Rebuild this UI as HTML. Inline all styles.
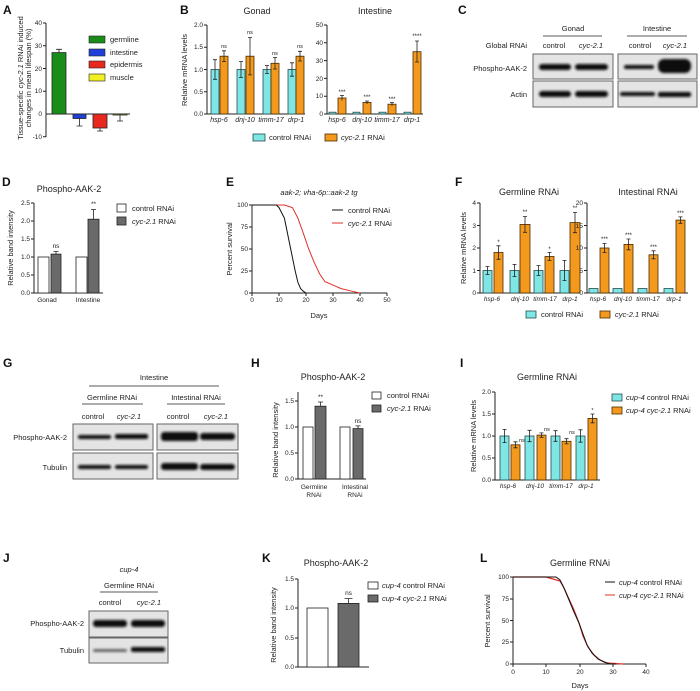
<!DOCTYPE html>
<html><head><meta charset="utf-8"><style>
body{margin:0;background:#fff}
svg{display:block;font-family:"Liberation Sans",sans-serif}
.t{font-size:6.5px;fill:#222}
.l{font-size:7.5px;fill:#222}
.ti{font-size:9px;fill:#222}
.P{font-size:12px;font-weight:bold;fill:#111}
.i{font-style:italic}
.ax{stroke:#222;stroke-width:1;fill:none}
.cy{fill:#7fe6e6;stroke:#2a4a4a;stroke-width:.8}
.or{fill:#f39a1e;stroke:#4a2a00;stroke-width:.8}
.wh{fill:#fff;stroke:#222;stroke-width:.8}
.gr{fill:#6a6a6a;stroke:#222;stroke-width:.8}
.e{stroke:#222;stroke-width:.8;fill:none}
.box{fill:#e4e4e4;stroke:#666;stroke-width:1}
.band{fill:#111;filter:url(#b)}
</style></head><body>
<svg width="700" height="691" viewBox="0 0 700 691">
<defs><filter id="b" x="-20%" y="-100%" width="140%" height="300%"><feGaussianBlur stdDeviation="1.2"/></filter></defs>

<!-- A -->
<text class="P" x="3" y="14">A</text>
<text class="l" transform="translate(23,78) rotate(-90)" text-anchor="middle">Tissue-specific <tspan class="i">cyc-2.1</tspan> RNAi induced</text>
<text class="l" transform="translate(31,78) rotate(-90)" text-anchor="middle">changes in mean lifespan (%)</text>
<path class="ax" d="M46,23V137M43,23H46M43,45.75H46M43,68.5H46M43,91.25H46M43,136.75H46M46,114H130"/>
<g class="t" text-anchor="end"><text x="42" y="25">40</text><text x="42" y="48">30</text><text x="42" y="71">20</text><text x="42" y="93">10</text><text x="42" y="116">0</text><text x="42" y="139">-10</text></g>
<rect x="52" y="52.6" width="14" height="61.4" fill="#1a8c1a" stroke="#222" stroke-width=".8"/><path class="e" d="M59,52.6V49.3M56,49.3H62"/>
<rect x="73" y="114" width="13" height="4.5" fill="#1f3fd8" stroke="#222" stroke-width=".8"/><path class="e" d="M79.5,118.5V126M76.5,126H82.5"/>
<rect x="93" y="114" width="14" height="14" fill="#e8281e" stroke="#222" stroke-width=".8"/><path class="e" d="M100,128V131M97,131H103"/>
<rect x="113" y="114" width="14" height="1" fill="#f0f020" stroke="#222" stroke-width=".8"/><path class="e" d="M120,115V121M117,121H123"/>
<rect x="89" y="36" width="16" height="7" fill="#1a8c1a" stroke="#222" stroke-width=".6"/><text class="l" x="110" y="42">germline</text>
<rect x="89" y="49" width="16" height="7" fill="#1f3fd8" stroke="#222" stroke-width=".6"/><text class="l" x="110" y="55">intestine</text>
<rect x="89" y="61" width="16" height="7" fill="#e8281e" stroke="#222" stroke-width=".6"/><text class="l" x="110" y="67">epidermis</text>
<rect x="89" y="74" width="16" height="7" fill="#f0f020" stroke="#222" stroke-width=".6"/><text class="l" x="110" y="80">muscle</text>

<!-- B -->
<text class="P" x="180" y="14">B</text>
<text class="ti" x="257" y="14" text-anchor="middle">Gonad</text>
<text class="ti" x="375" y="14" text-anchor="middle">Intestine</text>
<text class="l" transform="translate(187,70) rotate(-90)" text-anchor="middle">Relative mRNA levels</text>
<path class="ax" d="M207,25V114H305M204,25H207M204,47.25H207M204,69.5H207M204,91.75H207M204,114H207"/>
<g class="t" text-anchor="end"><text x="203" y="27">2.0</text><text x="203" y="49">1.5</text><text x="203" y="72">1.0</text><text x="203" y="94">0.5</text><text x="203" y="116">0.0</text></g>
<rect class="cy" x="211" y="69.5" width="8" height="44.5"/><path class="e" d="M215,59.7V79.3M213,59.7H217M213,79.3H217"/>
<rect class="or" x="220" y="56.2" width="8" height="57.8"/><path class="e" d="M224,50.8V61.5M222,50.8H226M222,61.5H226"/>
<rect class="cy" x="237" y="69.5" width="8" height="44.5"/><path class="e" d="M241,61.5V77.5M239,61.5H243M239,77.5H243"/>
<rect class="or" x="246" y="56.2" width="8" height="57.8"/><path class="e" d="M250,37.5V74.9M248,37.5H252M248,74.9H252"/>
<rect class="cy" x="263" y="69.5" width="8" height="44.5"/><path class="e" d="M267,65.5V73.5M265,65.5H269M265,73.5H269"/>
<rect class="or" x="271" y="63.3" width="8" height="50.7"/><path class="e" d="M275,57.5V69M273,57.5H277M273,69H277"/>
<rect class="cy" x="288" y="69.5" width="8" height="44.5"/><path class="e" d="M292,62.8V76.2M290,62.8H294M290,76.2H294"/>
<rect class="or" x="296" y="56.2" width="8" height="57.8"/><path class="e" d="M300,51.3V61M298,51.3H302M298,61H302"/>
<g class="t" text-anchor="middle" style="font-size:5.5px"><text x="224" y="48">ns</text><text x="250" y="34">ns</text><text x="275" y="55">ns</text><text x="300" y="48">ns</text></g>
<g class="t i" text-anchor="middle" style="font-size:7px"><text x="219" y="122">hsp-6</text><text x="245" y="122">dnj-10</text><text x="271" y="122">timm-17</text><text x="296" y="122">drp-1</text></g>
<path class="ax" d="M327,25V114H423M324,25H327M324,42.8H327M324,60.6H327M324,78.4H327M324,96.2H327M324,114H327"/>
<g class="t" text-anchor="end"><text x="323" y="27">50</text><text x="323" y="45">40</text><text x="323" y="63">30</text><text x="323" y="81">20</text><text x="323" y="98">10</text><text x="323" y="116">0</text></g>
<rect class="cy" x="329" y="112.2" width="7" height="1.8"/><rect class="or" x="338" y="98" width="8" height="16"/><path class="e" d="M342,95.5V100.5M340,95.5H344"/>
<rect class="cy" x="353" y="112.2" width="7" height="1.8"/><rect class="or" x="363" y="102.4" width="8" height="11.6"/><path class="e" d="M367,101V104M365,101H369"/>
<rect class="cy" x="379" y="112.2" width="7" height="1.8"/><rect class="or" x="388" y="104.2" width="8" height="9.8"/><path class="e" d="M392,102.5V106M390,102.5H394"/>
<rect class="cy" x="404" y="112.2" width="7" height="1.8"/><rect class="or" x="413" y="51.7" width="8" height="62.3"/><path class="e" d="M417,41V62M415,41H419M415,62H419"/>
<g class="t" text-anchor="middle" style="font-size:6px"><text x="342" y="94">***</text><text x="367" y="99">***</text><text x="392" y="101">***</text><text x="417" y="38">****</text></g>
<g class="t i" text-anchor="middle" style="font-size:7px"><text x="337" y="122">hsp-6</text><text x="362" y="122">dnj-10</text><text x="387" y="122">timm-17</text><text x="412" y="122">drp-1</text></g>
<rect class="cy" x="253" y="134" width="12" height="7"/><text class="l" x="269" y="140">control RNAi</text>
<rect class="or" x="325" y="134" width="12" height="7"/><text class="l" x="341" y="140"><tspan class="i">cyc-2.1</tspan> RNAi</text>

<!-- C -->
<text class="P" x="458" y="14">C</text>
<text class="l" x="573" y="31" text-anchor="middle">Gonad</text><path class="e" d="M543,36H602"/>
<text class="l" x="657" y="31" text-anchor="middle">Intestine</text><path class="e" d="M627,36H687"/>
<text class="l" x="527" y="48" text-anchor="end">Global RNAi</text>
<text class="l" x="554" y="48" text-anchor="middle">control</text><text class="l i" x="591" y="48" text-anchor="middle">cyc-2.1</text>
<text class="l" x="640" y="48" text-anchor="middle">control</text><text class="l i" x="675" y="48" text-anchor="middle">cyc-2.1</text>
<text class="l" x="527" y="71" text-anchor="end">Phospho-AAK-2</text><text class="l" x="527" y="97" text-anchor="end">Actin</text>
<rect class="box" x="533" y="54" width="80" height="25"/><rect class="box" x="533" y="81" width="80" height="26"/>
<rect class="box" x="618" y="54" width="79" height="25"/><rect class="box" x="618" y="81" width="79" height="26"/>
<rect class="band" x="539" y="64" width="32" height="6" rx="3"/><rect class="band" x="575" y="64" width="33" height="6" rx="3"/>
<rect class="band" x="539" y="91" width="32" height="6" rx="3"/><rect class="band" x="575" y="91" width="33" height="6" rx="3"/>
<rect class="band" x="624" y="65" width="30" height="4" rx="2"/><rect class="band" x="658" y="59" width="33" height="14" rx="6"/>
<rect class="band" x="620" y="92" width="35" height="4" rx="2"/><rect class="band" x="658" y="92" width="33" height="5" rx="2"/>

<!-- D -->
<text class="P" x="2" y="186">D</text>
<text class="ti" x="69" y="192" text-anchor="middle">Phospho-AAK-2</text>
<text class="l" transform="translate(13,248) rotate(-90)" text-anchor="middle">Relative band intensity</text>
<path class="ax" d="M34,203V293H103M31,203H34M31,221H34M31,239H34M31,257H34M31,275H34M31,293H34"/>
<g class="t" text-anchor="end"><text x="30" y="205">2.5</text><text x="30" y="223">2.0</text><text x="30" y="241">1.5</text><text x="30" y="259">1.0</text><text x="30" y="277">0.5</text><text x="30" y="295">0.0</text></g>
<rect class="wh" x="38" y="257" width="11" height="36"/><rect class="gr" x="51" y="254.1" width="10" height="38.9"/><path class="e" d="M56,254.1V251.5M53.5,251.5H58.5"/>
<rect class="wh" x="76" y="257" width="11" height="36"/><rect class="gr" x="88" y="219.2" width="11" height="73.8"/><path class="e" d="M93.5,219.2V209.5M91,209.5H96"/>
<text class="t" x="56" y="248" text-anchor="middle">ns</text><text class="t" x="93.5" y="206" text-anchor="middle">**</text>
<text class="t" x="47" y="302" text-anchor="middle">Gonad</text><text class="t" x="88" y="302" text-anchor="middle">Intestine</text>
<rect class="wh" x="117" y="204" width="9" height="8"/><text class="l" x="132" y="211">control RNAi</text>
<rect class="gr" x="117" y="217" width="9" height="8"/><text class="l" x="132" y="224"><tspan class="i">cyc-2.1</tspan> RNAi</text>

<!-- E -->
<text class="P" x="226" y="186">E</text>
<text class="l i" x="319" y="195" text-anchor="middle">aak-2; vha-6p::aak-2 tg</text>
<text class="l" transform="translate(232,249) rotate(-90)" text-anchor="middle">Percent survival</text>
<path class="ax" d="M252,205V293H387M249,205H252M249,227H252M249,249H252M249,271H252M249,293H252M252,293V296M279,293V296M306,293V296M333,293V296M360,293V296M387,293V296"/>
<g class="t" text-anchor="end"><text x="248" y="207">100</text><text x="248" y="229">75</text><text x="248" y="251">50</text><text x="248" y="273">25</text><text x="248" y="295">0</text></g>
<g class="t" text-anchor="middle"><text x="252" y="302">0</text><text x="279" y="302">10</text><text x="306" y="302">20</text><text x="333" y="302">30</text><text x="360" y="302">40</text><text x="387" y="302">50</text></g>
<text class="l" x="319" y="318" text-anchor="middle">Days</text>
<polyline fill="none" stroke="#e0302a" stroke-width="1" points="252,205 284.4,205 292.5,207.6 297.9,218.2 303.3,233.2 308.7,249 314.1,262.2 319.5,273.6 324.9,281.6 333,285.1 341.1,288.6 351.9,291.2 360,293"/>
<polyline fill="none" stroke="#111" stroke-width="1" points="252,205 276.3,205 279,207.6 284.4,218.2 287.1,231.4 289.8,244.6 292.5,257.8 295.2,271 297.9,282.4 300.6,288.6 303.3,291.2 306,293 308.7,293"/>
<path d="M332,210H343" stroke="#111" stroke-width="1"/><text class="l" x="348" y="213">control RNAi</text>
<path d="M332,223H343" stroke="#e0302a" stroke-width="1"/><text class="l" x="348" y="226"><tspan class="i">cyc-2.1</tspan> RNAi</text>

<!-- F -->
<text class="P" x="455" y="186">F</text>
<text class="ti" x="529" y="195" text-anchor="middle">Germline RNAi</text>
<text class="ti" x="648" y="195" text-anchor="middle">Intestinal RNAi</text>
<text class="l" transform="translate(466,248) rotate(-90)" text-anchor="middle">Relative mRNA levels</text>
<path class="ax" d="M480,203V293H580M477,203H480M477,225.5H480M477,248H480M477,270.5H480M477,293H480"/>
<g class="t" text-anchor="end"><text x="476" y="205">4</text><text x="476" y="228">3</text><text x="476" y="250">2</text><text x="476" y="273">1</text><text x="476" y="295">0</text></g>
<rect class="cy" x="483" y="270.5" width="9" height="22.5"/><path class="e" d="M487.5,266.5V274.5M485.5,266.5H489.5M485.5,274.5H489.5"/>
<rect class="or" x="494" y="252.5" width="9" height="40.5"/><path class="e" d="M498.5,245.8V259.3M496.5,245.8H500.5M496.5,259.3H500.5"/>
<rect class="cy" x="510" y="270.5" width="9" height="22.5"/><path class="e" d="M514.5,264.4V276.6M512.5,264.4H516.5M512.5,276.6H516.5"/>
<rect class="or" x="520" y="224.4" width="10" height="68.6"/><path class="e" d="M525,216.5V232.3M523,216.5H527M523,232.3H527"/>
<rect class="cy" x="534" y="270.5" width="9" height="22.5"/><path class="e" d="M538.5,265.5V275.5M536.5,265.5H540.5M536.5,275.5H540.5"/>
<rect class="or" x="545" y="256.5" width="9" height="36.5"/><path class="e" d="M549.5,252.5V260.5M547.5,252.5H551.5M547.5,260.5H551.5"/>
<rect class="cy" x="560" y="270.5" width="9" height="22.5"/><path class="e" d="M564.5,260.4V280.6M562.5,260.4H566.5M562.5,280.6H566.5"/>
<rect class="or" x="570" y="222.6" width="10" height="70.4"/><path class="e" d="M575,212.5V232.7M573,212.5H577M573,232.7H577"/>
<g class="t" text-anchor="middle" style="font-size:6px"><text x="498.5" y="244">*</text><text x="525" y="214">**</text><text x="549.5" y="251">*</text><text x="575" y="210">**</text></g>
<g class="t i" text-anchor="middle" style="font-size:6.5px"><text x="492" y="301">hsp-6</text><text x="520" y="301">dnj-10</text><text x="545" y="301">timm-17</text><text x="570" y="301">drp-1</text></g>
<path class="ax" d="M587,203V293H688M584,203H587M584,225.5H587M584,248H587M584,270.5H587M584,293H587"/>
<g class="t" text-anchor="end"><text x="583" y="205">20</text><text x="583" y="228">15</text><text x="583" y="250">10</text><text x="583" y="273">5</text><text x="583" y="295">0</text></g>
<rect class="cy" x="589" y="288.5" width="9" height="4.5"/><rect class="or" x="600" y="248" width="9" height="45"/><path class="e" d="M604.5,243.5V252.5M602.5,243.5H606.5M602.5,252.5H606.5"/>
<rect class="cy" x="613" y="288.5" width="9" height="4.5"/><rect class="or" x="624" y="244.4" width="9" height="48.6"/><path class="e" d="M628.5,239V249.8M626.5,239H630.5M626.5,249.8H630.5"/>
<rect class="cy" x="638" y="288.5" width="9" height="4.5"/><rect class="or" x="649" y="254.8" width="9" height="38.2"/><path class="e" d="M653.5,250.8V258.8M651.5,250.8H655.5M651.5,258.8H655.5"/>
<rect class="cy" x="664" y="288.5" width="9" height="4.5"/><rect class="or" x="676" y="220.1" width="9" height="72.9"/><path class="e" d="M680.5,216.9V223.3M678.5,216.9H682.5M678.5,223.3H682.5"/>
<g class="t" text-anchor="middle" style="font-size:6px"><text x="604.5" y="241">***</text><text x="628.5" y="237">***</text><text x="653.5" y="249">***</text><text x="680.5" y="215">***</text></g>
<g class="t i" text-anchor="middle" style="font-size:6.5px"><text x="598" y="301">hsp-6</text><text x="623" y="301">dnj-10</text><text x="648" y="301">timm-17</text><text x="674" y="301">drp-1</text></g>
<rect class="cy" x="526" y="311" width="10" height="7"/><text class="l" x="541" y="317">control RNAi</text>
<rect class="or" x="600" y="311" width="10" height="7"/><text class="l" x="615" y="317"><tspan class="i">cyc-2.1</tspan> RNAi</text>

<!-- G -->
<text class="P" x="3" y="367">G</text>
<text class="l" x="154" y="380" text-anchor="middle">Intestine</text><path class="e" d="M89,386H219"/>
<text class="l" x="112" y="400" text-anchor="middle">Germline RNAi</text><path class="e" d="M82,404H143"/>
<text class="l" x="196" y="400" text-anchor="middle">Intestinal RNAi</text><path class="e" d="M167,404H225"/>
<text class="l" x="93" y="419" text-anchor="middle">control</text><text class="l i" x="129" y="419" text-anchor="middle">cyc-2.1</text>
<text class="l" x="178" y="419" text-anchor="middle">control</text><text class="l i" x="216" y="419" text-anchor="middle">cyc-2.1</text>
<text class="l" x="67" y="440" text-anchor="end">Phospho-AAK-2</text><text class="l" x="67" y="470" text-anchor="end">Tubulin</text>
<rect class="box" x="73" y="424" width="80" height="26"/><rect class="box" x="73" y="453" width="80" height="26"/>
<rect class="box" x="157" y="424" width="81" height="26"/><rect class="box" x="157" y="453" width="81" height="26"/>
<rect class="band" x="78" y="435" width="33" height="4" rx="2"/><rect class="band" x="115" y="434" width="33" height="5" rx="2"/>
<rect class="band" x="78" y="465" width="33" height="4" rx="2"/><rect class="band" x="115" y="465" width="33" height="4" rx="2"/>
<rect class="band" x="161" y="432" width="37" height="9" rx="3"/><rect class="band" x="200" y="433" width="35" height="7" rx="3"/>
<rect class="band" x="161" y="463" width="37" height="7" rx="3"/><rect class="band" x="200" y="464" width="35" height="6" rx="3"/>

<!-- H -->
<text class="P" x="251" y="367">H</text>
<text class="ti" x="333" y="380" text-anchor="middle">Phospho-AAK-2</text>
<text class="l" transform="translate(278,440) rotate(-90)" text-anchor="middle">Relative band intensity</text>
<path class="ax" d="M298,392V479H366M295,401H298M295,427H298M295,453H298M295,479H298"/>
<g class="t" text-anchor="end"><text x="294" y="403">1.5</text><text x="294" y="429">1.0</text><text x="294" y="455">0.5</text><text x="294" y="481">0.0</text></g>
<rect class="wh" x="303" y="427" width="10" height="52"/><rect class="gr" x="315" y="406.2" width="11" height="72.8"/><path class="e" d="M320.5,406.2V402M318,402H323"/>
<rect class="wh" x="340" y="427" width="10" height="52"/><rect class="gr" x="353" y="428.6" width="10" height="50.4"/><path class="e" d="M358,428.6V425.9M355.5,425.9H360.5"/>
<text class="t" x="320.5" y="399" text-anchor="middle">**</text><text class="t" x="358" y="423" text-anchor="middle">ns</text>
<g class="t" text-anchor="middle"><text x="314" y="489">Germline</text><text x="314" y="497">RNAi</text><text x="355" y="489">Intestinal</text><text x="355" y="497">RNAi</text></g>
<rect class="wh" x="372" y="392" width="9" height="7"/><text class="l" x="387" y="398">control RNAi</text>
<rect class="gr" x="372" y="405" width="9" height="7"/><text class="l" x="387" y="411"><tspan class="i">cyc-2.1</tspan> RNAi</text>

<!-- I -->
<text class="P" x="460" y="367">I</text>
<text class="ti" x="547" y="380" text-anchor="middle">Germline RNAi</text>
<text class="l" transform="translate(476,436) rotate(-90)" text-anchor="middle">Relative mRNA levels</text>
<path class="ax" d="M495,392V480H600M492,392H495M492,414H495M492,436H495M492,458H495M492,480H495"/>
<g class="t" text-anchor="end"><text x="491" y="394">2.0</text><text x="491" y="416">1.5</text><text x="491" y="438">1.0</text><text x="491" y="460">0.5</text><text x="491" y="482">0.0</text></g>
<rect class="cy" x="500" y="436" width="9" height="44"/><path class="e" d="M504.5,429.4V442.6M502.5,429.4H506.5M502.5,442.6H506.5"/>
<rect class="or" x="511" y="444.8" width="9" height="35.2"/><path class="e" d="M515.5,441.8V447.8M513.5,441.8H517.5M513.5,447.8H517.5"/>
<rect class="cy" x="525" y="436" width="9" height="44"/><path class="e" d="M529.5,430.3V441.7M527.5,430.3H531.5M527.5,441.7H531.5"/>
<rect class="or" x="537" y="435.1" width="9" height="44.9"/><path class="e" d="M541.5,432.9V437.3M539.5,432.9H543.5M539.5,437.3H543.5"/>
<rect class="cy" x="551" y="436" width="9" height="44"/><path class="e" d="M555.5,430.7V441.3M553.5,430.7H557.5M553.5,441.3H557.5"/>
<rect class="or" x="562" y="441.3" width="9" height="38.7"/><path class="e" d="M566.5,438.7V443.9M564.5,438.7H568.5M564.5,443.9H568.5"/>
<rect class="cy" x="576" y="436" width="9" height="44"/><path class="e" d="M580.5,429.8V442.2M578.5,429.8H582.5M578.5,442.2H582.5"/>
<rect class="or" x="588" y="418.4" width="9" height="61.6"/><path class="e" d="M592.5,414V422.8M590.5,414H594.5M590.5,422.8H594.5"/>
<g class="t" text-anchor="middle" style="font-size:5.5px"><text x="522" y="442">ns</text><text x="547" y="431">ns</text><text x="572" y="434">ns</text><text x="592.5" y="412">*</text></g>
<g class="t i" text-anchor="middle" style="font-size:6.5px"><text x="508" y="488">hsp-6</text><text x="535" y="488">dnj-10</text><text x="561" y="488">timm-17</text><text x="586" y="488">drp-1</text></g>
<rect class="cy" x="612" y="394" width="10" height="7"/><text class="l" x="626" y="400"><tspan class="i">cup-4</tspan> control RNAi</text>
<rect class="or" x="612" y="407" width="10" height="7"/><text class="l" x="626" y="413"><tspan class="i">cup-4 cyc-2.1</tspan> RNAi</text>

<!-- J -->
<text class="P" x="3" y="562">J</text>
<text class="l i" x="129" y="572" text-anchor="middle">cup-4</text>
<text class="l" x="129" y="588" text-anchor="middle">Germline RNAi</text><path class="e" d="M100,592H158"/>
<text class="l" x="110" y="605" text-anchor="middle">control</text><text class="l i" x="149" y="605" text-anchor="middle">cyc-2.1</text>
<text class="l" x="84" y="626" text-anchor="end">Phospho-AAK-2</text><text class="l" x="84" y="653" text-anchor="end">Tubulin</text>
<rect class="box" x="89" y="611" width="79" height="26"/><rect class="box" x="89" y="638" width="79" height="25"/>
<rect class="band" x="93" y="620" width="34" height="7" rx="3"/><rect class="band" x="131" y="620" width="34" height="7" rx="3"/>
<rect class="band" x="93" y="649" width="34" height="3" rx="1.5" style="fill:#666"/><rect class="band" x="131" y="647" width="34" height="5" rx="2"/>

<!-- K -->
<text class="P" x="262" y="562">K</text>
<text class="ti" x="336" y="566" text-anchor="middle">Phospho-AAK-2</text>
<text class="l" transform="translate(276,625) rotate(-90)" text-anchor="middle">Relative band intensity</text>
<path class="ax" d="M298,579V667H369M295,579H298M295,608H298M295,638H298M295,667H298"/>
<g class="t" text-anchor="end"><text x="294" y="581">1.5</text><text x="294" y="610">1.0</text><text x="294" y="640">0.5</text><text x="294" y="669">0.0</text></g>
<rect class="wh" x="307" y="608" width="21" height="59"/><rect class="gr" x="338" y="603.4" width="21" height="63.6"/><path class="e" d="M348.5,603.4V598.5M344.5,598.5H352.5"/>
<text class="t" x="348.5" y="595" text-anchor="middle">ns</text>
<rect class="wh" x="368" y="582" width="10" height="7"/><text class="l i" x="382" y="588">cup-4 <tspan font-style="normal">control RNAi</tspan></text>
<rect class="gr" x="368" y="595" width="10" height="7"/><text class="l" x="382" y="601"><tspan class="i">cup-4 cyc-2.1</tspan> RNAi</text>

<!-- L -->
<text class="P" x="480" y="562">L</text>
<text class="ti" x="580" y="566" text-anchor="middle">Germline RNAi</text>
<text class="l" transform="translate(490,621) rotate(-90)" text-anchor="middle">Percent survival</text>
<path class="ax" d="M513,577V664H646M510,577H513M510,599H513M510,620.5H513M510,642H513M510,664H513M513,664V667M546,664V667M580,664V667M613,664V667M646,664V667"/>
<g class="t" text-anchor="end"><text x="509" y="579">100</text><text x="509" y="601">75</text><text x="509" y="623">50</text><text x="509" y="644">25</text><text x="509" y="666">0</text></g>
<g class="t" text-anchor="middle"><text x="513" y="674">0</text><text x="546" y="674">10</text><text x="580" y="674">20</text><text x="613" y="674">30</text><text x="646" y="674">40</text></g>
<text class="l" x="580" y="688" text-anchor="middle">Days</text>
<polyline fill="none" stroke="#e0302a" stroke-width="1.2" points="513,577 546,577 553,579 560,581 564,588 569,599 574,610 579,623 583,636 588,647 594,655 600,660 607,663 623,664"/>
<polyline fill="none" stroke="#111" stroke-width="1" points="513,577 556,577 560,580 564,588 569,600 574,612 579,623 583,634 587,645 592,653 598,659 604,662 610,664 616,664"/>
<path d="M605,582H615" stroke="#111" stroke-width="1"/><text class="l" x="619" y="585"><tspan class="i">cup-4</tspan> control RNAi</text>
<path d="M605,595H615" stroke="#e0302a" stroke-width="1"/><text class="l" x="619" y="598"><tspan class="i">cup-4 cyc-2.1</tspan> RNAi</text>
</svg>
</body></html>
